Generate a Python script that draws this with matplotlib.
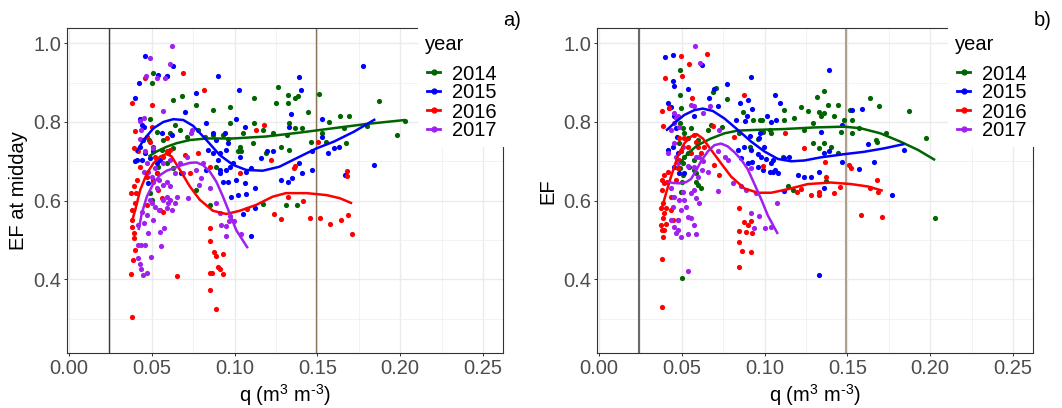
import matplotlib
matplotlib.use("Agg")
import matplotlib.pyplot as plt
from matplotlib.lines import Line2D
from matplotlib.patches import Rectangle

plt.rcParams['font.family'] = ['Liberation Sans', 'DejaVu Sans']
plt.rcParams['mathtext.fontset'] = 'custom'
plt.rcParams['mathtext.rm'] = 'Liberation Sans'
plt.rcParams['mathtext.it'] = 'Liberation Sans'

years = ['2014', '2015', '2016', '2017']
colors = {'2014': '#006400', '2015': '#0000FF', '2016': '#FF0000', '2017': '#A020F0'}

# ---- panel a) EF at midday : points (q, EF) ----
a_2014 = [(0.0505, 0.925), (0.050, 0.90), (0.059, 0.917), (0.063, 0.855), (0.068, 0.867),
          (0.077, 0.843), (0.087, 0.83), (0.097, 0.838), (0.112, 0.86), (0.1265, 0.888),
          (0.125, 0.848), (0.1325, 0.869), (0.132, 0.848), (0.1365, 0.86), (0.1385, 0.865),
          (0.1445, 0.826), (0.151, 0.870), (0.1636, 0.815), (0.169, 0.815), (0.187, 0.853),
          (0.203, 0.803), (0.198, 0.767), (0.180, 0.79), (0.167, 0.746), (0.166, 0.784),
          (0.157, 0.799), (0.155, 0.75), (0.153, 0.771), (0.146, 0.75), (0.141, 0.784),
          (0.1365, 0.784), (0.133, 0.798), (0.128, 0.737), (0.1315, 0.767), (0.1235, 0.771),
          (0.117, 0.78), (0.112, 0.797), (0.111, 0.746), (0.105, 0.773), (0.103, 0.737),
          (0.102, 0.725), (0.097, 0.797), (0.096, 0.756), (0.093, 0.767), (0.087, 0.767),
          (0.082, 0.763), (0.078, 0.78), (0.071, 0.763), (0.067, 0.78), (0.064, 0.792),
          (0.061, 0.771), (0.057, 0.754), (0.053, 0.775), (0.049, 0.807), (0.0485, 0.754),
          (0.051, 0.737), (0.056, 0.729), (0.063, 0.733), (0.060, 0.72), (0.059, 0.695),
          (0.054, 0.686), (0.051, 0.653), (0.049, 0.619), (0.050, 0.602), (0.085, 0.588),
          (0.077, 0.627), (0.089, 0.686), (0.117, 0.592), (0.131, 0.589), (0.1375, 0.589),
          (0.133, 0.729), (0.119, 0.72), (0.104, 0.725), (0.063, 0.682)]
a_2015 = [(0.0457, 0.968), (0.042, 0.90), (0.040, 0.86), (0.0626, 0.942), (0.054, 0.92),
          (0.059, 0.917), (0.090, 0.917), (0.077, 0.873), (0.070, 0.826), (0.1027, 0.88),
          (0.101, 0.808), (0.106, 0.787), (0.1777, 0.941), (0.139, 0.915), (0.140, 0.88),
          (0.134, 0.82), (0.133, 0.787), (0.1527, 0.808), (0.1525, 0.763), (0.1566, 0.722),
          (0.160, 0.733), (0.163, 0.737), (0.1665, 0.665), (0.184, 0.69), (0.147, 0.678),
          (0.1465, 0.725), (0.141, 0.67), (0.1345, 0.657), (0.132, 0.648), (0.128, 0.652),
          (0.123, 0.725), (0.1195, 0.725), (0.116, 0.708), (0.110, 0.682), (0.107, 0.674),
          (0.1125, 0.631), (0.1125, 0.58), (0.110, 0.51), (0.105, 0.567), (0.107, 0.618),
          (0.102, 0.615), (0.098, 0.609), (0.106, 0.644), (0.101, 0.652), (0.096, 0.647),
          (0.093, 0.647), (0.091, 0.669), (0.090, 0.703), (0.087, 0.72), (0.091, 0.72),
          (0.095, 0.729), (0.097, 0.686), (0.099, 0.695), (0.089, 0.754), (0.087, 0.771),
          (0.083, 0.797), (0.094, 0.771), (0.096, 0.746), (0.084, 0.729), (0.062, 0.767),
          (0.056, 0.771), (0.041, 0.703), (0.040, 0.70), (0.043, 0.737), (0.0449, 0.754),
          (0.044, 0.792), (0.043, 0.807), (0.0455, 0.788), (0.047, 0.763), (0.046, 0.72),
          (0.044, 0.703), (0.049, 0.708), (0.051, 0.725), (0.053, 0.695), (0.053, 0.669),
          (0.0475, 0.644), (0.055, 0.703), (0.0675, 0.669), (0.091, 0.678), (0.095, 0.678),
          (0.103, 0.712), (0.083, 0.678), (0.139, 0.695)]
a_2016 = [(0.0382, 0.305), (0.0374, 0.414), (0.0389, 0.449), (0.040, 0.475), (0.039, 0.504),
          (0.0395, 0.517), (0.038, 0.534), (0.0378, 0.551), (0.0378, 0.576), (0.0374, 0.619),
          (0.039, 0.636), (0.0405, 0.619), (0.040, 0.593), (0.0409, 0.653), (0.039, 0.733),
          (0.038, 0.847), (0.040, 0.777), (0.0418, 0.725), (0.043, 0.686), (0.046, 0.911),
          (0.047, 0.661), (0.047, 0.763), (0.050, 0.843), (0.050, 0.788), (0.049, 0.75),
          (0.052, 0.712), (0.053, 0.669), (0.051, 0.648), (0.0539, 0.627), (0.057, 0.57),
          (0.056, 0.606), (0.057, 0.712), (0.059, 0.725), (0.059, 0.758), (0.061, 0.729),
          (0.065, 0.408), (0.069, 0.924), (0.070, 0.716), (0.073, 0.669), (0.078, 0.72),
          (0.0815, 0.88), (0.085, 0.686), (0.085, 0.53), (0.085, 0.498), (0.085, 0.415),
          (0.085, 0.373), (0.0862, 0.417), (0.0876, 0.47), (0.089, 0.46), (0.0888, 0.325),
          (0.090, 0.432), (0.091, 0.425), (0.093, 0.464), (0.093, 0.414), (0.1033, 0.669),
          (0.113, 0.78), (0.118, 0.792), (0.122, 0.703), (0.124, 0.566), (0.128, 0.554),
          (0.136, 0.682), (0.1365, 0.689), (0.1415, 0.60), (0.1455, 0.556), (0.1515, 0.555),
          (0.1576, 0.541), (0.164, 0.551), (0.1686, 0.563), (0.168, 0.676), (0.168, 0.663),
          (0.171, 0.515), (0.1506, 0.75), (0.1325, 0.608), (0.1073, 0.578), (0.047, 0.589),
          (0.055, 0.576)]
a_2017 = [(0.062, 0.993), (0.061, 0.947), (0.049, 0.962), (0.0463, 0.917), (0.053, 0.911),
          (0.058, 0.913), (0.0566, 0.828), (0.0453, 0.809), (0.043, 0.803), (0.043, 0.757),
          (0.0433, 0.78), (0.047, 0.695), (0.045, 0.674), (0.048, 0.674), (0.052, 0.682),
          (0.050, 0.661), (0.0545, 0.653), (0.057, 0.64), (0.059, 0.648), (0.061, 0.636),
          (0.053, 0.631), (0.049, 0.602), (0.050, 0.593), (0.052, 0.585), (0.0545, 0.576),
          (0.057, 0.602), (0.059, 0.610), (0.060, 0.593), (0.061, 0.602), (0.062, 0.576),
          (0.064, 0.593), (0.065, 0.610), (0.059, 0.581), (0.051, 0.551), (0.047, 0.564),
          (0.044, 0.572), (0.0419, 0.538), (0.045, 0.544), (0.0475, 0.517), (0.0415, 0.487),
          (0.0437, 0.487), (0.0459, 0.487), (0.0419, 0.453), (0.043, 0.44), (0.0437, 0.425),
          (0.0449, 0.411), (0.047, 0.417), (0.0495, 0.457), (0.0558, 0.485), (0.055, 0.519),
          (0.0574, 0.53), (0.069, 0.671), (0.072, 0.606), (0.0735, 0.771), (0.074, 0.78),
          (0.077, 0.678), (0.0785, 0.64), (0.080, 0.657), (0.081, 0.695), (0.085, 0.631),
          (0.089, 0.593), (0.091, 0.568), (0.092, 0.538), (0.095, 0.536), (0.0972, 0.561),
          (0.0946, 0.51), (0.0998, 0.547), (0.1039, 0.515), (0.0966, 0.547), (0.067, 0.695),
          (0.071, 0.712), (0.061, 0.703), (0.064, 0.669), (0.057, 0.695), (0.046, 0.725),
          (0.051, 0.733)]

# smooth curves read off panel a)
a_fit_2014 = [(0.048, 0.712), (0.053, 0.725), (0.059, 0.737), (0.065, 0.746), (0.073, 0.754),
              (0.083, 0.758), (0.099, 0.758), (0.119, 0.763), (0.1395, 0.773), (0.1596, 0.784),
              (0.180, 0.795), (0.203, 0.805)]
a_fit_2015 = [(0.0405, 0.722), (0.045, 0.754), (0.051, 0.784), (0.057, 0.80), (0.063, 0.807),
              (0.069, 0.805), (0.075, 0.79), (0.083, 0.754), (0.091, 0.716), (0.099, 0.691),
              (0.107, 0.678), (0.117, 0.676), (0.127, 0.686), (0.1375, 0.708), (0.1496, 0.733),
              (0.160, 0.75), (0.172, 0.775), (0.185, 0.807)]
a_fit_2016 = [(0.038, 0.547), (0.040, 0.576), (0.043, 0.627), (0.047, 0.669), (0.051, 0.695),
              (0.055, 0.712), (0.059, 0.719), (0.062, 0.712), (0.067, 0.678), (0.073, 0.636),
              (0.079, 0.602), (0.087, 0.574), (0.095, 0.566), (0.103, 0.574), (0.113, 0.589),
              (0.123, 0.61), (0.131, 0.619), (0.1435, 0.619), (0.1556, 0.614), (0.1636, 0.606),
              (0.171, 0.593)]
a_fit_2017 = [(0.042, 0.525), (0.044, 0.568), (0.047, 0.61), (0.051, 0.644), (0.055, 0.665),
              (0.059, 0.676), (0.063, 0.682), (0.068, 0.69), (0.073, 0.696), (0.077, 0.697),
              (0.081, 0.69), (0.085, 0.674), (0.089, 0.648), (0.093, 0.61), (0.097, 0.568),
              (0.101, 0.525), (0.108, 0.479)]

# ---- panel b) EF : points (q, EF) ----
b_2014 = [(0.050, 0.404), (0.049, 0.932), (0.049, 0.869), (0.0496, 0.835), (0.049, 0.797),
          (0.0506, 0.784), (0.0516, 0.771), (0.0556, 0.784), (0.0536, 0.758), (0.0486, 0.746),
          (0.0496, 0.725), (0.0516, 0.712), (0.0506, 0.695), (0.049, 0.682), (0.0506, 0.665),
          (0.050, 0.648), (0.0496, 0.623), (0.0536, 0.72), (0.0546, 0.686), (0.0576, 0.703),
          (0.0586, 0.648), (0.0596, 0.64), (0.0616, 0.631), (0.0586, 0.669), (0.0576, 0.678),
          (0.0596, 0.754), (0.0657, 0.78), (0.0677, 0.792), (0.0687, 0.877), (0.0707, 0.886),
          (0.0743, 0.788), (0.0771, 0.858), (0.0848, 0.771), (0.0868, 0.826), (0.091, 0.737),
          (0.093, 0.805), (0.097, 0.805), (0.0985, 0.805), (0.0959, 0.756), (0.099, 0.775),
          (0.104, 0.773), (0.1035, 0.78), (0.111, 0.712), (0.112, 0.831), (0.112, 0.805),
          (0.117, 0.627), (0.1179, 0.81), (0.122, 0.839), (0.124, 0.78), (0.126, 0.828),
          (0.129, 0.797), (0.129, 0.746), (0.1318, 0.864), (0.133, 0.826), (0.133, 0.733),
          (0.1342, 0.814), (0.136, 0.879), (0.136, 0.822), (0.136, 0.746), (0.1382, 0.843),
          (0.140, 0.737), (0.1418, 0.814), (0.1446, 0.843), (0.1446, 0.72), (0.146, 0.775),
          (0.148, 0.805), (0.1513, 0.831), (0.153, 0.805), (0.153, 0.771), (0.157, 0.784),
          (0.1638, 0.86), (0.167, 0.754), (0.168, 0.75), (0.1693, 0.84), (0.1735, 0.771),
          (0.1875, 0.828), (0.1976, 0.758), (0.203, 0.555), (0.137, 0.65), (0.114, 0.636)]
b_2015 = [(0.040, 0.966), (0.0445, 0.970), (0.0449, 0.903), (0.0455, 0.892), (0.054, 0.883),
          (0.062, 0.945), (0.0415, 0.848), (0.0435, 0.839), (0.042, 0.835), (0.0455, 0.814),
          (0.0465, 0.784), (0.0445, 0.737), (0.0475, 0.72), (0.047, 0.763), (0.0415, 0.729),
          (0.0455, 0.686), (0.0486, 0.669), (0.0516, 0.669), (0.0576, 0.814), (0.0663, 0.86),
          (0.0697, 0.883), (0.0717, 0.84), (0.0771, 0.897), (0.0915, 0.914), (0.0854, 0.848),
          (0.0898, 0.855), (0.0925, 0.832), (0.0828, 0.805), (0.088, 0.803), (0.0894, 0.814),
          (0.091, 0.764), (0.097, 0.771), (0.1015, 0.814), (0.106, 0.869), (0.1096, 0.848),
          (0.1066, 0.805), (0.104, 0.80), (0.1388, 0.932), (0.1326, 0.41), (0.1338, 0.775),
          (0.136, 0.72), (0.139, 0.725), (0.147, 0.792), (0.1527, 0.831), (0.159, 0.833),
          (0.1624, 0.744), (0.166, 0.699), (0.157, 0.68), (0.147, 0.697), (0.177, 0.614),
          (0.1845, 0.729), (0.1358, 0.631), (0.133, 0.674), (0.128, 0.661), (0.124, 0.661),
          (0.120, 0.664), (0.115, 0.712), (0.112, 0.625), (0.0898, 0.695), (0.0925, 0.697),
          (0.0959, 0.686), (0.099, 0.678), (0.103, 0.674), (0.106, 0.678), (0.108, 0.669),
          (0.104, 0.695), (0.1009, 0.705), (0.098, 0.712), (0.0959, 0.719), (0.0919, 0.729),
          (0.0878, 0.737), (0.0838, 0.729), (0.0858, 0.708), (0.0999, 0.737), (0.105, 0.703),
          (0.1116, 0.708), (0.0965, 0.76), (0.105, 0.674)]
b_2016 = [(0.0379, 0.33), (0.038, 0.451), (0.0385, 0.508), (0.038, 0.525), (0.0395, 0.525),
          (0.0375, 0.538), (0.0405, 0.541), (0.0385, 0.555), (0.0395, 0.568), (0.0375, 0.58),
          (0.0405, 0.58), (0.0385, 0.593), (0.038, 0.627), (0.039, 0.644), (0.038, 0.653),
          (0.0412, 0.648), (0.0395, 0.665), (0.0415, 0.674), (0.0385, 0.79), (0.038, 0.828),
          (0.040, 0.911), (0.0425, 0.835), (0.0435, 0.576), (0.0445, 0.551), (0.0475, 0.551),
          (0.0435, 0.61), (0.0465, 0.653), (0.0475, 0.682), (0.0485, 0.703), (0.0496, 0.725),
          (0.0481, 0.758), (0.0496, 0.968), (0.0502, 0.917), (0.0542, 0.947), (0.0562, 0.86),
          (0.0516, 0.758), (0.0536, 0.737), (0.0556, 0.72), (0.0576, 0.767), (0.0586, 0.75),
          (0.0596, 0.737), (0.0616, 0.72), (0.065, 0.973), (0.0637, 0.737), (0.0687, 0.79),
          (0.0697, 0.69), (0.0727, 0.665), (0.0813, 0.763), (0.0878, 0.869), (0.0848, 0.58),
          (0.0844, 0.524), (0.0848, 0.495), (0.0862, 0.473), (0.0848, 0.432), (0.0878, 0.546),
          (0.0888, 0.52), (0.0898, 0.538), (0.0919, 0.549), (0.0923, 0.517), (0.0915, 0.47),
          (0.0991, 0.688), (0.1126, 0.771), (0.1197, 0.623), (0.1237, 0.735), (0.128, 0.614),
          (0.1326, 0.614), (0.1330, 0.623), (0.1366, 0.697), (0.1372, 0.659), (0.1418, 0.62),
          (0.1456, 0.634), (0.1509, 0.69), (0.1519, 0.684), (0.158, 0.564), (0.1634, 0.631),
          (0.1678, 0.653), (0.1684, 0.623), (0.1708, 0.559), (0.122, 0.629)]
b_2017 = [(0.0582, 0.993), (0.0612, 0.949), (0.063, 0.822), (0.0556, 0.843), (0.0576, 0.84),
          (0.067, 0.84), (0.0455, 0.822), (0.0465, 0.809), (0.0475, 0.814), (0.0435, 0.78),
          (0.0455, 0.797), (0.0485, 0.788), (0.0506, 0.737), (0.0455, 0.746), (0.0465, 0.712),
          (0.0415, 0.72), (0.0475, 0.695), (0.0536, 0.688), (0.0576, 0.686), (0.0586, 0.712),
          (0.0606, 0.712), (0.0627, 0.70), (0.0657, 0.674), (0.0620, 0.678), (0.0596, 0.661),
          (0.0717, 0.725), (0.0727, 0.78), (0.0761, 0.712), (0.0777, 0.703), (0.0808, 0.644),
          (0.0717, 0.625), (0.0858, 0.636), (0.0888, 0.627), (0.0919, 0.682), (0.0919, 0.568),
          (0.0949, 0.619), (0.0935, 0.531), (0.0969, 0.561), (0.1005, 0.531), (0.104, 0.533),
          (0.1075, 0.593), (0.0435, 0.631), (0.0455, 0.61), (0.0485, 0.602), (0.0516, 0.602),
          (0.0526, 0.585), (0.0556, 0.619), (0.0576, 0.627), (0.0586, 0.606), (0.0606, 0.595),
          (0.0496, 0.576), (0.0536, 0.559), (0.0556, 0.555), (0.0576, 0.538), (0.0475, 0.551),
          (0.0445, 0.585), (0.0435, 0.551), (0.0455, 0.534), (0.0475, 0.525), (0.0496, 0.508),
          (0.0536, 0.515), (0.0586, 0.515), (0.0536, 0.42), (0.0506, 0.623), (0.0465, 0.517)]

b_fit_2014 = [(0.049, 0.695), (0.0536, 0.72), (0.0596, 0.741), (0.0677, 0.758), (0.0757, 0.771),
              (0.0838, 0.778), (0.0959, 0.78), (0.112, 0.782), (0.130, 0.786), (0.148, 0.788),
              (0.158, 0.784), (0.170, 0.771), (0.182, 0.75), (0.1926, 0.729), (0.203, 0.703)]
b_fit_2015 = [(0.0405, 0.778), (0.0455, 0.797), (0.0516, 0.818), (0.0576, 0.83), (0.0627, 0.834),
              (0.0687, 0.828), (0.0757, 0.809), (0.0838, 0.78), (0.0919, 0.75), (0.0999, 0.725),
              (0.108, 0.706), (0.116, 0.70), (0.124, 0.702), (0.134, 0.71), (0.148, 0.718),
              (0.160, 0.724), (0.1724, 0.733), (0.1845, 0.744)]
b_fit_2016 = [(0.038, 0.581), (0.0405, 0.619), (0.0435, 0.661), (0.0475, 0.712), (0.0516, 0.746),
              (0.0556, 0.763), (0.059, 0.769), (0.0627, 0.758), (0.0677, 0.729), (0.0737, 0.695),
              (0.0798, 0.661), (0.0878, 0.631), (0.0959, 0.62), (0.104, 0.62), (0.114, 0.629),
              (0.126, 0.642), (0.140, 0.646), (0.1523, 0.642), (0.1624, 0.636), (0.1714, 0.625)]
b_fit_2017 = [(0.0415, 0.648), (0.0445, 0.645), (0.0485, 0.644), (0.0526, 0.647), (0.0556, 0.655),
              (0.0586, 0.676), (0.0616, 0.70), (0.0657, 0.725), (0.0697, 0.741), (0.0737, 0.745),
              (0.0777, 0.738), (0.0818, 0.723), (0.0858, 0.705), (0.0898, 0.68), (0.0939, 0.642),
              (0.0979, 0.604), (0.102, 0.562), (0.108, 0.515)]

q_low, q_high = 0.0243, 0.1493   # vertical reference lines

W, H = 1062, 408
fig = plt.figure(figsize=(W / 100, H / 100), dpi=100)


def px_box(left, top, right, bottom):
    return [left / W, 1 - bottom / H, (right - left) / W, (bottom - top) / H]


def draw_panel(ax, pts, fits, ylabel, vcols, vlw):
    ax.set_xlim(-0.00139, 0.2623)
    ax.set_ylim(0.2118, 1.0381)
    ax.set_xticks([0.0, 0.05, 0.10, 0.15, 0.20, 0.25])
    ax.set_xticklabels(['0.00', '0.05', '0.10', '0.15', '0.20', '0.25'])
    ax.set_yticks([0.4, 0.6, 0.8, 1.0])
    ax.set_yticklabels(['0.4', '0.6', '0.8', '1.0'])
    ax.set_xticks([0.025, 0.075, 0.125, 0.175, 0.225], minor=True)
    ax.set_yticks([0.3, 0.5, 0.7, 0.9], minor=True)
    ax.grid(True, which='major', color='#EBEBEB', lw=1.0, zorder=0)
    ax.grid(True, which='minor', color='#F0F0F0', lw=0.6, zorder=0)
    ax.set_axisbelow(True)
    ax.tick_params(which='major', length=2.5, width=0.7, color='#333333',
                   labelcolor='#4D4D4D', labelsize=14.5, pad=1.5)
    ax.tick_params(which='minor', length=0)
    for s in ax.spines.values():
        s.set_color('#333333')
        s.set_linewidth(0.8)
    ax.axvline(q_low, color=vcols[0], lw=vlw, zorder=1)
    ax.axvline(q_high, color=vcols[1], lw=vlw, zorder=1)
    for y in years:
        qs = [p[0] for p in pts[y]]
        ef = [p[1] for p in pts[y]]
        ax.scatter(qs, ef, s=14, color=colors[y], linewidths=0, zorder=2)
    for y in years:
        qs = [p[0] for p in fits[y]]
        ef = [p[1] for p in fits[y]]
        ax.plot(qs, ef, color=colors[y], lw=1.8, zorder=3, solid_capstyle='butt')
    ax.set_xlabel('q (m$^{3}$ m$^{\\mathrm{\u2010}3}$)', fontsize=14.5, labelpad=3)
    ax.set_ylabel(ylabel, fontsize=14.5, labelpad=4)


ax_a = fig.add_axes(px_box(66.7, 28.3, 503.3, 353.3))
ax_b = fig.add_axes(px_box(596.7, 28.3, 1033.3, 353.3))

draw_panel(ax_a,
           {'2014': a_2014, '2015': a_2015, '2016': a_2016, '2017': a_2017},
           {'2014': a_fit_2014, '2015': a_fit_2015, '2016': a_fit_2016, '2017': a_fit_2017},
           'EF at midday', ('#3a3a3a', '#8B7355'), 1.0)
draw_panel(ax_b,
           {'2014': b_2014, '2015': b_2015, '2016': b_2016, '2017': b_2017},
           {'2014': b_fit_2014, '2015': b_fit_2015, '2016': b_fit_2016, '2017': b_fit_2017},
           'EF', ('#6a6a6a', '#B0A090'), 1.5)

# legends: white box sitting over the top-right corner of each panel
handles = [Line2D([], [], color=colors[y], lw=2, marker='o', markersize=3.5) for y in years]
for leg_x, tag, tag_x in [(418, 'a)', 503.5), (948, 'b)', 1033.5)]:
    fig.add_artist(Rectangle((leg_x / W, 1 - 147 / H), 90 / W, 122 / H,
                             transform=fig.transFigure, facecolor='white',
                             edgecolor='none', zorder=5))
    fig.text((leg_x + 7) / W, 1 - 45 / H, 'year', fontsize=14.5, va='center',
             ha='left', zorder=6)
    leg = fig.legend(handles, years, loc='upper left',
                     bbox_to_anchor=((leg_x + 9) / W, 1 - 64.5 / H),
                     bbox_transform=fig.transFigure, frameon=False, fontsize=14.5,
                     handlelength=0.65, handletextpad=0.6, labelspacing=0.0,
                     borderpad=0, borderaxespad=0, numpoints=1)
    leg.set_zorder(6)
    fig.text(tag_x / W, 1 - 20 / H, tag, fontsize=14.5, va='center', ha='left')

fig.savefig('out.png', dpi=100)
